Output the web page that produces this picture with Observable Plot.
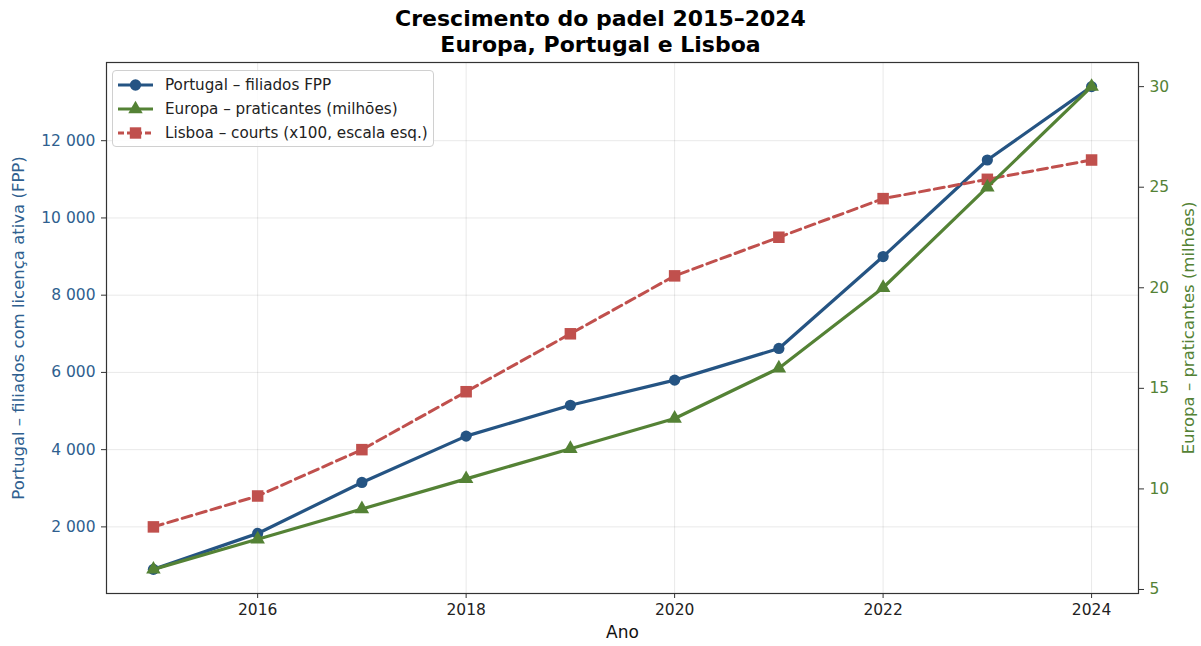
<!DOCTYPE html>
<html><head><meta charset="utf-8">
<script src="https://cdn.jsdelivr.net/npm/d3@7"></script>
<script src="https://cdn.jsdelivr.net/npm/@observablehq/plot@0.6"></script>
<style>
body{margin:0;background:#fff;font-family:"DejaVu Sans",sans-serif;}
#wrap{position:relative;width:1201px;height:646px;}
#title{position:absolute;left:0;top:6px;width:1201px;text-align:center;font-weight:bold;font-size:22px;line-height:26px;color:#000;}
#legend{position:absolute;left:112px;top:70px;width:322px;height:77px;border:1px solid #d0d0d0;border-radius:4px;background:rgba(255,255,255,0.85);box-sizing:border-box;padding:2px 0 0 4px;font-size:15.2px;color:#222;}
#legend .row{display:flex;align-items:center;height:24px;}
#legend svg{margin-right:10px;}
#chart{position:absolute;left:0;top:0;}
</style></head>
<body><div id="wrap"><div id="chart"></div>
<div id="title">Crescimento do padel 2015–2024<br>Europa, Portugal e Lisboa</div>
<div id="legend"></div></div>
<script>
const years = [2015,2016,2017,2018,2019,2020,2021,2022,2023,2024];
const portugalFiliados = [900,1830,3150,4350,5150,5800,6620,9000,11500,13400];
const europaMilhoes = [6.0,7.5,9.0,10.5,12.0,13.5,16.0,20.0,25.0,30.0];
const lisboaCourtsX100 = [2000,2800,4000,5500,7000,8500,9500,10500,11000,11500];
const xTicks = [2016,2018,2020,2022,2024];
const leftTicks = [2000,4000,6000,8000,10000,12000];
const rightTicks = [5,10,15,20,25,30];
const seriesNames = ["Portugal – filiados FPP","Europa – praticantes (milhões)","Lisboa – courts (x100, escala esq.)"];

const cBlue = "#255483", cGreen = "#548235", cRed = "#c0504d";
const leftDomain = [275, 14025];
const rightDomain = [4.8, 31.2];
const toLeft = v => leftDomain[0] + (v - rightDomain[0]) * (leftDomain[1]-leftDomain[0]) / (rightDomain[1]-rightDomain[0]);
const fromLeft = y => rightDomain[0] + (y - leftDomain[0]) * (rightDomain[1]-rightDomain[0]) / (leftDomain[1]-leftDomain[0]);
const fmtSpace = d => d3.format(",")(d).replace(/,/g," ");

const pt = years.map((y,i)=>({year:y, v:portugalFiliados[i]}));
const eu = years.map((y,i)=>({year:y, v:toLeft(europaMilhoes[i])}));
const lx = years.map((y,i)=>({year:y, v:lisboaCourtsX100[i]}));

const chart = Plot.plot({
  width:1201, height:646,
  marginLeft:106, marginRight:63, marginTop:62, marginBottom:53,
  style:{fontFamily:"DejaVu Sans, sans-serif", fontSize:"15px", background:"#fff"},
  x:{domain:[2014.55,2024.45], ticks:xTicks, tickFormat:"d", label:null},
  y:{domain:leftDomain, ticks:leftTicks, tickFormat:fmtSpace, label:null},
  marks:[
    Plot.gridX(xTicks,{stroke:"#000", strokeOpacity:0.09, strokeWidth:1}),
    Plot.gridY(leftTicks,{stroke:"#000", strokeOpacity:0.09, strokeWidth:1}),
    Plot.axisX(xTicks,{tickSize:5, tickPadding:5, fontSize:15.5, tickFormat:d=>String(d), color:"#222", stroke:"#333", label:null}),
    Plot.axisY(leftTicks,{anchor:"left", tickSize:5, tickPadding:6, fontSize:15.5, tickFormat:fmtSpace, color:"#2f5f8f", stroke:"#333", label:null}),
    Plot.axisY(rightTicks.map(toLeft),{anchor:"right", tickSize:5, tickPadding:6, fontSize:15.5, tickFormat:d=>String(Math.round(fromLeft(d))), color:cGreen, stroke:"#333", label:null}),
    Plot.text(["Ano"],{frameAnchor:"bottom", dy:44, fontSize:17, fill:"#111"}),
    Plot.text(["Portugal – filiados com licença ativa (FPP)"],{frameAnchor:"left", textAnchor:"middle", dx:-88, rotate:-90, fontSize:16.5, fill:"#2f5f8f"}),
    Plot.text(["Europa – praticantes (milhões)"],{frameAnchor:"right", textAnchor:"middle", dx:50, rotate:-90, fontSize:16.5, fill:cGreen}),
    Plot.line(pt,{x:"year", y:"v", stroke:cBlue, strokeWidth:3.2}),
    Plot.dot(pt,{x:"year", y:"v", fill:cBlue, r:5.6, symbol:"circle"}),
    Plot.line(lx,{x:"year", y:"v", stroke:cRed, strokeWidth:3, strokeDasharray:"10,5"}),
    Plot.dot(lx,{x:"year", y:"v", fill:cRed, r:6.5, symbol:"square"}),
    Plot.line(eu,{x:"year", y:"v", stroke:cGreen, strokeWidth:3.2}),
    Plot.dot(eu,{x:"year", y:"v", fill:cGreen, r:5.4, symbol:"triangle"}),
    Plot.frame({stroke:"#333", strokeWidth:1.2})
  ]
});
document.getElementById("chart").appendChild(chart);

// legend
const leg = d3.select("#legend");
const legItems = [
  {name:seriesNames[0], color:cBlue, sym:d3.symbolCircle, size:100, dash:null},
  {name:seriesNames[1], color:cGreen, sym:d3.symbolTriangle, size:90, dash:null},
  {name:seriesNames[2], color:cRed, sym:d3.symbolSquare, size:130, dash:"6,3"}
];
legItems.forEach(it=>{
  const row = leg.append("div").attr("class","row");
  const s = row.append("svg").attr("width",38).attr("height",20);
  s.append("line").attr("x1",1).attr("x2",36).attr("y1",10).attr("y2",10)
    .attr("stroke",it.color).attr("stroke-width",3.2).attr("stroke-dasharray",it.dash);
  s.append("path").attr("d",d3.symbol(it.sym,it.size)()).attr("transform","translate(18.5,10)").attr("fill",it.color);
  row.append("span").text(it.name);
});
</script></body></html>
